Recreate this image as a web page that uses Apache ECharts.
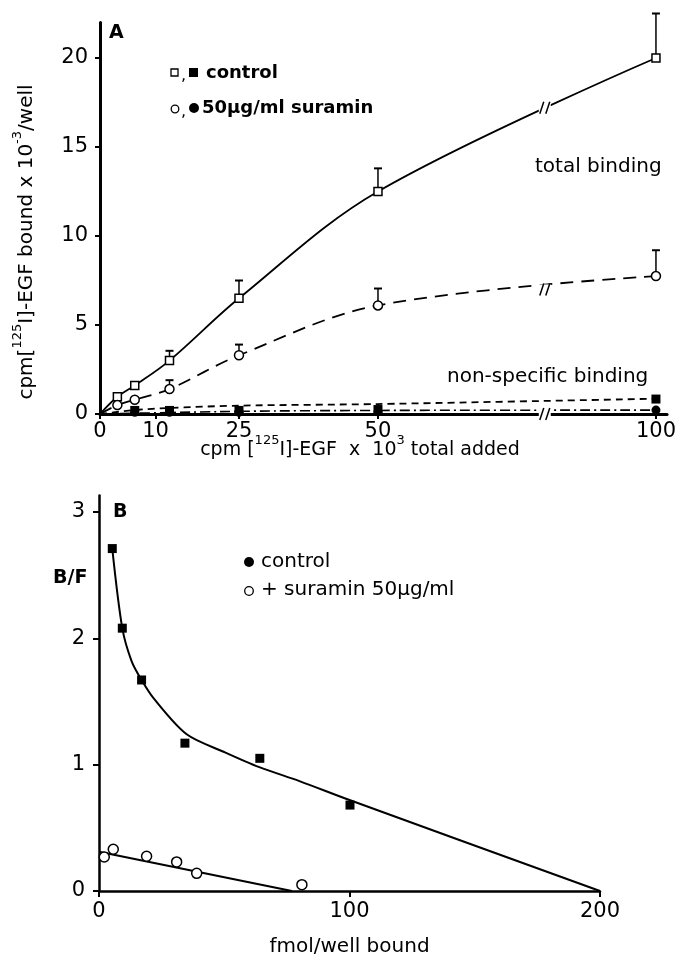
<!DOCTYPE html>
<html>
<head>
<meta charset="utf-8">
<script src="https://cdn.jsdelivr.net/npm/echarts@6/dist/echarts.min.js"></script>
<style>
html, body { margin: 0; padding: 0; background: #fff; }
#chart { width: 679px; height: 958px; }
</style>
</head>
<body>
<div id="chart"></div>
<script>
// panel A: cpm added (x 10^3) vs cpm bound (x 10^3 / well)
var addedA = [3.125, 6.25, 12.5, 25, 50, 100];
var totalControl = [0.97, 1.6, 3.0, 6.5, 12.5, 20.0];
var totalControlErr = [null, null, 3.55, 7.5, 13.8, 22.5];
var totalSuramin = [0.5, 0.8, 1.4, 3.3, 6.1, 7.75];
var totalSuraminErr = [null, null, 1.9, 3.9, 7.05, 9.2];
var nsAdded = [6.25, 12.5, 25, 50, 100];
var nsControl = [0.2, 0.2, 0.2, 0.25, 0.84];
var nsSuramin = [0.1, 0.1, 0.1, 0.12, 0.22];
var nsControlFitX = [0, 6.25, 12.5, 25, 50, 100];
var nsControlFit = [0, 0.22, 0.34, 0.47, 0.56, 0.86];
var nsSuraminFitX = [0, 25, 50, 100];
var nsSuraminFit = [0, 0.15, 0.2, 0.22];
var breakX = [80, 80, 80];
var breakY = [17.2, 7.0, 0];
var ticksXA = [0, 10, 25, 50, 100];
var ticksYA = [0, 5, 10, 15, 20];

// panel B: Scatchard plot, B/F vs fmol/well bound
var boundCtl = [5.3, 9.3, 17, 34.3, 64.2, 100.2];
var bfCtl = [2.71, 2.08, 1.67, 1.17, 1.05, 0.68];
var fitCtlX = [5.3, 9.3, 13, 17, 22, 35, 50, 64, 80, 100, 200];
var fitCtl = [2.71, 2.08, 1.82, 1.67, 1.52, 1.24, 1.1, 0.98, 0.87, 0.72, 0];
var boundSur = [2.1, 5.7, 19, 31, 39, 81];
var bfSur = [0.27, 0.33, 0.275, 0.23, 0.14, 0.05];
var fitSurX = [0, 77];
var fitSur = [0.31, 0];
var ticksXB = [0, 100, 200];
var ticksYB = [0, 1, 2, 3];

var FONT = "DejaVu Sans";

function pairs(xs, ys) {
  return xs.map(function(x, i) { return [x, ys[i]]; });
}

function errorBars(xs, ys, tops) {
  var d = [];
  xs.forEach(function(x, i) { if (tops[i] != null) d.push([x, ys[i], tops[i]]); });
  return {
    type: "custom", xAxisIndex: 0, yAxisIndex: 0, z: 1, clip: false,
    data: d,
    renderItem: function(params, api) {
      var p = api.coord([api.value(0), api.value(1)]);
      var t = api.coord([api.value(0), api.value(2)]);
      return {
        type: "group",
        children: [
          { type: "line", shape: { x1: p[0], y1: p[1] - 4, x2: p[0], y2: t[1] }, style: { stroke: "#000", lineWidth: 1.5 } },
          { type: "line", shape: { x1: p[0] - 4, y1: t[1], x2: p[0] + 4, y2: t[1] }, style: { stroke: "#000", lineWidth: 2 } }
        ]
      };
    }
  };
}

function axisStyle(width) {
  return {
    axisLine: { show: true, onZero: true, lineStyle: { color: "#000", width: width } },
    splitLine: { show: false }
  };
}

function lbl(size) {
  return { color: "#000", fontFamily: FONT, fontSize: size };
}

var openMark = { color: "#fff", borderColor: "#000", borderWidth: 1.5, opacity: 1 };
var filledMark = { color: "#000", opacity: 1 };

var myChart = echarts.init(document.getElementById("chart"));

var option = {
  backgroundColor: "#fff",
  animation: false,
  grid: [
    { left: 100, top: 22.4, width: 571, height: 391.6 },
    { left: 99, top: 495.5, width: 501, height: 397.5 }
  ],
  xAxis: [
    Object.assign({
      type: "value", gridIndex: 0, min: 0, max: 102,
      axisTick: { show: true, customValues: ticksXA, length: 5, lineStyle: { color: "#000", width: 2 } },
      axisLabel: Object.assign({ customValues: ticksXA, margin: 7 }, lbl(21))
    }, axisStyle(3)),
    Object.assign({
      type: "value", gridIndex: 1, min: 0, max: 200,
      axisTick: { show: true, customValues: ticksXB, length: 6, lineStyle: { color: "#000", width: 2 } },
      axisLabel: Object.assign({ customValues: ticksXB, margin: 10 }, lbl(21)),
      name: "fmol/well bound", nameLocation: "middle", nameGap: 46,
      nameTextStyle: lbl(20)
    }, axisStyle(2.5))
  ],
  yAxis: [
    Object.assign({
      type: "value", gridIndex: 0, min: 0, max: 22,
      axisTick: { show: true, customValues: ticksYA, length: 5, lineStyle: { color: "#000", width: 2 } },
      axisLabel: Object.assign({ customValues: ticksYA, margin: 12 }, lbl(21))
    }, axisStyle(3)),
    Object.assign({
      type: "value", gridIndex: 1, min: 0, max: 3.13,
      axisTick: { show: true, customValues: ticksYB, length: 6, lineStyle: { color: "#000", width: 2 } },
      axisLabel: Object.assign({ customValues: ticksYB, margin: 14 }, lbl(21))
    }, axisStyle(2.5))
  ],
  series: [
    // --- panel A ---
    {
      type: "line", xAxisIndex: 0, yAxisIndex: 0, showSymbol: false, smooth: 0.35,
      data: [[0, 0]].concat(pairs(addedA, totalControl)),
      lineStyle: { color: "#000", width: 1.8 }
    },
    {
      type: "line", xAxisIndex: 0, yAxisIndex: 0, showSymbol: false, smooth: 0.35,
      data: [[0, 0]].concat(pairs(addedA, totalSuramin)),
      lineStyle: { color: "#000", width: 1.8, type: [13, 8] }
    },
    {
      type: "line", xAxisIndex: 0, yAxisIndex: 0, showSymbol: false, smooth: 0.3,
      data: pairs(nsControlFitX, nsControlFit),
      lineStyle: { color: "#000", width: 1.8, type: [7, 5] }
    },
    {
      type: "line", xAxisIndex: 0, yAxisIndex: 0, showSymbol: false, smooth: 0.3,
      data: pairs(nsSuraminFitX, nsSuraminFit),
      lineStyle: { color: "#000", width: 1.6, type: [10, 4, 2, 4] }
    },
    errorBars(addedA, totalControl, totalControlErr),
    errorBars(addedA, totalSuramin, totalSuraminErr),
    {
      type: "scatter", xAxisIndex: 0, yAxisIndex: 0, symbol: "rect", symbolSize: 8, z: 3,
      data: pairs(addedA, totalControl), itemStyle: openMark
    },
    {
      type: "scatter", xAxisIndex: 0, yAxisIndex: 0, symbol: "circle", symbolSize: 9, z: 3,
      data: pairs(addedA, totalSuramin), itemStyle: openMark
    },
    {
      type: "scatter", xAxisIndex: 0, yAxisIndex: 0, symbol: "rect", symbolSize: 9, z: 3,
      data: pairs(nsAdded, nsControl), itemStyle: filledMark
    },
    {
      type: "scatter", xAxisIndex: 0, yAxisIndex: 0, symbol: "circle", symbolSize: 9, z: 3,
      data: pairs(nsAdded, nsSuramin), itemStyle: filledMark
    },
    {
      // axis / curve break marks
      type: "custom", xAxisIndex: 0, yAxisIndex: 0, z: 4, clip: false,
      data: pairs(breakX, breakY),
      renderItem: function(params, api) {
        var p = api.coord([api.value(0), api.value(1)]);
        return {
          type: "group",
          children: [
            { type: "rect", shape: { x: p[0] - 6, y: p[1] - 5, width: 12, height: 10 }, style: { fill: "#fff" } },
            { type: "line", shape: { x1: p[0] - 5, y1: p[1] + 6, x2: p[0] - 1, y2: p[1] - 6 }, style: { stroke: "#000", lineWidth: 1.5 } },
            { type: "line", shape: { x1: p[0] + 1, y1: p[1] + 6, x2: p[0] + 5, y2: p[1] - 6 }, style: { stroke: "#000", lineWidth: 1.5 } }
          ]
        };
      }
    },
    // --- panel B ---
    {
      type: "line", xAxisIndex: 1, yAxisIndex: 1, showSymbol: false, smooth: 0.3,
      data: pairs(fitCtlX, fitCtl),
      lineStyle: { color: "#000", width: 2 }
    },
    {
      type: "line", xAxisIndex: 1, yAxisIndex: 1, showSymbol: false,
      data: pairs(fitSurX, fitSur),
      lineStyle: { color: "#000", width: 2 }
    },
    {
      type: "scatter", xAxisIndex: 1, yAxisIndex: 1, symbol: "rect", symbolSize: 9, z: 3,
      data: pairs(boundCtl, bfCtl), itemStyle: filledMark
    },
    {
      type: "scatter", xAxisIndex: 1, yAxisIndex: 1, symbol: "circle", symbolSize: 10, z: 3,
      data: pairs(boundSur, bfSur), itemStyle: openMark
    }
  ],
  graphic: [
    { type: "text", left: 109, top: 24, style: { text: "A", font: "bold 19px DejaVu Sans", fill: "#000" } },
    // legend A
    { type: "rect", shape: { x: 171, y: 69, width: 7, height: 7 }, style: { fill: "#fff", stroke: "#000", lineWidth: 1.3 } },
    { type: "text", x: 181, y: 76, style: { text: ",", font: "16px DejaVu Sans", fill: "#000", verticalAlign: "middle" } },
    { type: "rect", shape: { x: 189, y: 68, width: 9, height: 9 }, style: { fill: "#000" } },
    { type: "text", x: 206, y: 73, style: { text: "control", font: "bold 18px DejaVu Sans", fill: "#000", verticalAlign: "middle" } },
    { type: "circle", shape: { cx: 175, cy: 109, r: 3.8 }, style: { fill: "#fff", stroke: "#000", lineWidth: 1.3 } },
    { type: "text", x: 181, y: 112, style: { text: ",", font: "16px DejaVu Sans", fill: "#000", verticalAlign: "middle" } },
    { type: "circle", shape: { cx: 194, cy: 108, r: 5 }, style: { fill: "#000" } },
    { type: "text", x: 202, y: 108, style: { text: "50\u03bcg/ml suramin", font: "bold 18px DejaVu Sans", fill: "#000", verticalAlign: "middle" } },
    { type: "text", x: 535, y: 167, style: { text: "total binding", font: "20px DejaVu Sans", fill: "#000", verticalAlign: "middle" } },
    { type: "text", x: 447, y: 377, style: { text: "non-specific binding", font: "20px DejaVu Sans", fill: "#000", verticalAlign: "middle" } },
    // axis titles A
    {
      type: "text", x: 24, y: 242, rotation: Math.PI / 2,
      style: {
        text: "{n|cpm[}{s|125}{n|I]-EGF bound x 10}{s|-3}{n|/well}",
        align: "center", verticalAlign: "middle", fill: "#000",
        rich: {
          n: { fontFamily: FONT, fontSize: 20, lineHeight: 26, verticalAlign: "bottom" },
          s: { fontFamily: FONT, fontSize: 13, lineHeight: 26, verticalAlign: "top" }
        }
      }
    },
    {
      type: "text", x: 360, y: 447,
      style: {
        text: "{n|cpm [}{s|125}{n|I]-EGF  x  10}{s|3}{n| total added}",
        align: "center", verticalAlign: "middle", fill: "#000",
        rich: {
          n: { fontFamily: FONT, fontSize: 19, lineHeight: 26, verticalAlign: "bottom" },
          s: { fontFamily: FONT, fontSize: 13, lineHeight: 26, verticalAlign: "top" }
        }
      }
    },
    // panel B labels
    { type: "text", x: 113, y: 512, style: { text: "B", font: "bold 19px DejaVu Sans", fill: "#000", verticalAlign: "middle" } },
    { type: "text", x: 53, y: 578, style: { text: "B/F", font: "bold 19px DejaVu Sans", fill: "#000", verticalAlign: "middle" } },
    { type: "circle", shape: { cx: 249, cy: 562, r: 5 }, style: { fill: "#000" } },
    { type: "text", x: 261, y: 562, style: { text: "control", font: "20px DejaVu Sans", fill: "#000", verticalAlign: "middle" } },
    { type: "circle", shape: { cx: 249, cy: 591, r: 4.3 }, style: { fill: "#fff", stroke: "#000", lineWidth: 1.3 } },
    { type: "text", x: 261, y: 590, style: { text: "+ suramin 50\u03bcg/ml", font: "20px DejaVu Sans", fill: "#000", verticalAlign: "middle" } }
  ]
};

myChart.setOption(option);
</script>
</body>
</html>
